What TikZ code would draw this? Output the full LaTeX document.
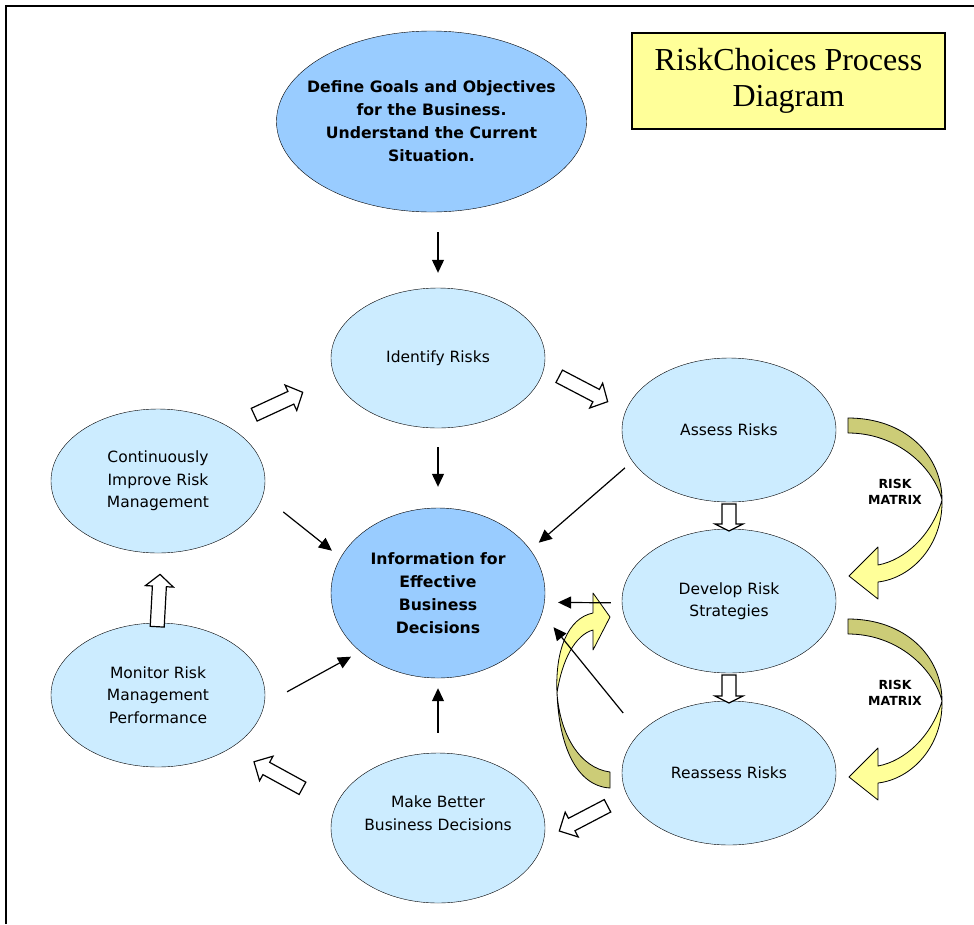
\documentclass[tikz,border=0pt]{standalone}
\usepackage{fontspec}
\setmainfont{DejaVu Sans}
\newfontfamily\titlefont{Liberation Serif}
\usetikzlibrary{arrows.meta,shapes.geometric}
\definecolor{paleblue}{RGB}{204,236,255}
\definecolor{midblue}{RGB}{153,204,255}
\definecolor{paleyellow}{RGB}{255,255,153}
\definecolor{darkyellow}{RGB}{204,204,119}
\tikzset{
  stage/.style={ellipse,draw,fill=paleblue,inner sep=0pt,minimum width=214pt,minimum height=144pt,align=center,font=\fontsize{15.5}{22.5}\selectfont},
  keystage/.style={stage,fill=midblue,font=\fontsize{15.7}{23}\selectfont\bfseries},
  thinarrow/.style={-{Triangle[length=13pt,width=12pt]},line width=1.2pt},
  hollow/.style={draw,fill=white,line width=1.2pt,line join=miter},
  twist/.style={draw,line width=0.8pt,line join=round},
}
\newcommand\blockarr[4]{\draw[hollow,shift={(#1)},rotate=#2] (0,-7) -- ({#3-#4},-7) -- ({#3-#4},-14) -- (#3,0) -- ({#3-#4},14) -- ({#3-#4},7) -- (0,7) -- cycle;}
\begin{document}
\begin{tikzpicture}[x=1pt,y=-1pt]
\useasboundingbox (0,0) rectangle (974,924);
\fill[white] (0,0) rectangle (974,924);
\draw[line width=2pt] (6,924) -- (6,6) -- (974,6);
\node[draw,fill=paleyellow,line width=1.5pt,minimum width=313pt,minimum height=96pt,align=center,font=\titlefont\fontsize{32}{36}\selectfont] (title) at (788.5,81) {RiskChoices Process\\Diagram};
\node[keystage,minimum width=310pt,minimum height=181pt,inner xsep=-20pt,inner ysep=-4pt] (define) at (431.5,121.5) {Define Goals and Objectives\\for the Business.\\Understand the Current\\Situation.};
\node[stage,minimum height=140pt] (identify) at (438,358) {Identify Risks};
\node[stage] (assess) at (729,430) {Assess Risks};
\node[stage] (develop) at (729,601) {Develop Risk\\Strategies};
\node[stage] (reassess) at (729,773) {Reassess Risks};
\node[keystage,minimum height=170pt] (info) at (438,593) {Information for\\Effective\\Business\\Decisions};
\node[stage,minimum height=150pt,inner xsep=-4pt,text depth=30pt] (better) at (438,828) {Make Better\\Business Decisions};
\node[stage] (monitor) at (158,695) {Monitor Risk\\Management\\Performance};
\node[stage] (improve) at (158,481) {Continuously\\Improve Risk\\Management};
\foreach \dy/\nm in {0/matrixa,201/matrixb}{
  \begin{scope}[shift={(0,\dy)}]
    \fill[darkyellow,twist,draw=black] (848,418) .. controls (905,418) and (942,455) .. (942,500) .. controls (934,468) and (898,433) .. (848,433) -- cycle;
    \fill[paleyellow,twist,draw=black] (942,500) .. controls (943,545) and (912,578) .. (878,582) -- (878,599) -- (849,576) -- (878,547) -- (878,565) .. controls (905,560) and (932,535) .. (942,500) -- cycle;
    \node[font=\fontsize{12.5}{16}\selectfont\bfseries,align=center] (\nm) at (895,492) {RISK\\MATRIX};
  \end{scope}
}
\fill[darkyellow,twist,draw=black] (610,772) .. controls (580,768) and (560,735) .. (557,693) .. controls (559,745) and (576,786) .. (610,788) -- cycle;
\fill[paleyellow,twist,draw=black] (557,693) .. controls (555,650) and (568,618) .. (593,613) -- (593,593) -- (610,617) -- (593,650) -- (593,630) .. controls (575,635) and (562,660) .. (557,693) -- cycle;
\blockarr{254.2,414.7}{24.8}{53.4}{13}
\blockarr{559.2,376.3}{-27.6}{54.7}{13}
\blockarr{729,504}{-90}{27}{7}
\blockarr{729,675}{-90}{28}{7}
\blockarr{607.5,805.8}{-152.4}{54.4}{14}
\blockarr{302.5,788.3}{151.3}{55.3}{14}
\blockarr{157.2,626.7}{86.9}{52.4}{12}
\draw[thinarrow,shorten <=20pt,shorten >=15pt] (define.south -| identify.north) -- (identify.north);
\draw[thinarrow,shorten <=19pt,shorten >=21pt] (identify.south) -- (info.north);
\draw[thinarrow,shorten <=20pt,shorten >=10pt] (better.north) -- (info.south);
\draw[thinarrow,shorten <=11pt,shorten >=13.5pt] (develop.181) -- (info.-5);
\draw[thinarrow,shorten <=10pt,shorten >=11pt] (assess.198.8) -- (info.25.6);
\draw[thinarrow,shorten <=26pt,shorten >=18pt] (reassess.156) -- (info.-11.5);
\draw[thinarrow,shorten <=26pt,shorten >=10.5pt] (monitor.-5) -- (info.217.5);
\draw[thinarrow,shorten <=26pt,shorten >=11pt] (improve.-8.8) -- (info.160);
\end{tikzpicture}
\end{document}
